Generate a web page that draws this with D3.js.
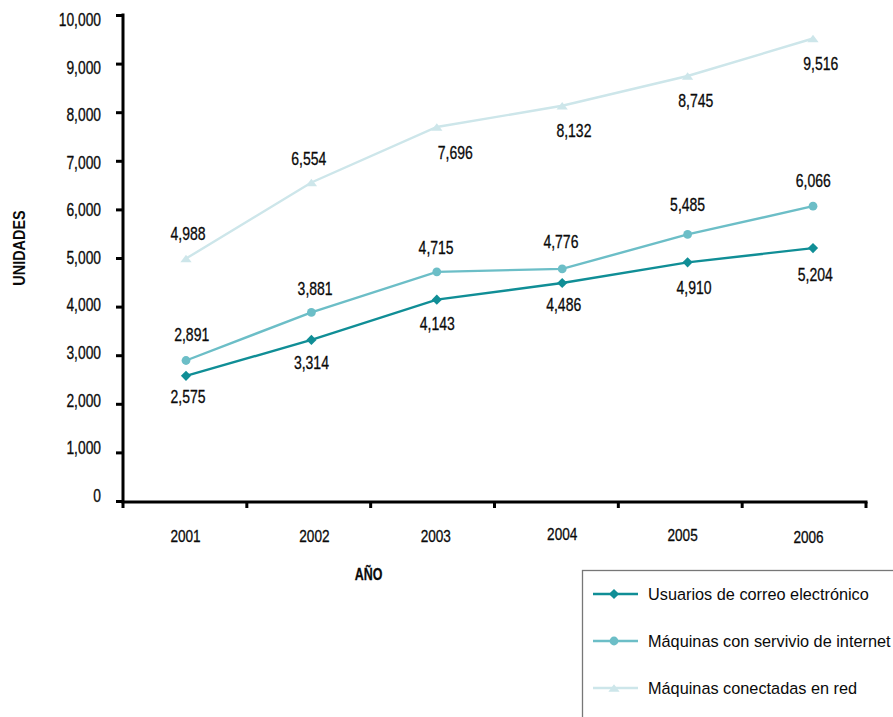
<!DOCTYPE html>
<html><head><meta charset="utf-8">
<script src="https://cdn.jsdelivr.net/npm/d3@7"></script>
<style>
body{margin:0;background:#fff;}
svg{display:block;}
text{font-family:"Liberation Sans",Arial,sans-serif;fill:#0a0a0a;}
text.c{stroke:#0a0a0a;stroke-width:0.3;}
</style></head>
<body><svg id="c" width="893" height="717"></svg>
<script>
const years = ["2001","2002","2003","2004","2005","2006"];
const correo = [2575, 3314, 4143, 4486, 4910, 5204];
const servicio = [2891, 3881, 4715, 4776, 5485, 6066];
const red = [4988, 6554, 7696, 8132, 8745, 9516];
const yTicks = [0,1000,2000,3000,4000,5000,6000,7000,8000,9000,10000];
const seriesNames = ["Usuarios de correo electrónico","Máquinas con servivio de internet","Máquinas conectadas en red"];

// layout (label offsets in px relative to the point)
const labelDx = [[2,0,0.5,1.5,6.4,2.3],[5.7,3.7,-0.7,-1.3,0,0.3],[2,-2.6,18.5,11.7,8.2,7.8]];
const labelDy = [[21,22.7,24.5,22,25.7,27],[-26,-24,-24,-27,-29.6,-25],[-24.5,-24,26,25,25,25.6]];
const yearY = [541.5,541.5,541.5,539.5,541,543];
const yearDx = [-0.5,3,-1,0,-5,-4.5];

const svg = d3.select("#c");
const y = d3.scaleLinear().domain([0,10000]).range([501,15]);
const yLab = d3.scaleLinear().domain([0,10000]).range([495.5,19.7]);
const xb = d3.scaleBand().domain(years).range([123,866]);
const xp = d3.scalePoint().domain(years).range([186,813]);
const fmt = d3.format(",");
const SX = 0.8;

function ctext(g, x, yy, str, size, sx, anchor, weight){
  return g.append("text").attr("class","c").attr("transform",`translate(${x},${yy}) scale(${sx},1)`)
    .attr("text-anchor",anchor||"middle").attr("font-size",size)
    .attr("font-weight",weight||"normal").text(str);
}

// Y axis
const ya = svg.append("g").attr("transform","translate(123,0)")
  .call(d3.axisLeft(y).tickValues(yTicks).tickFormat(fmt).tickSize(7));
ya.select(".domain").attr("stroke","#000").attr("stroke-width",3).attr("d","M0,13.5V502");
ya.selectAll(".tick line").attr("stroke","#000").attr("stroke-width",3);
ya.selectAll(".tick text").remove();
yTicks.forEach(t=>ctext(svg, 101, yLab(t)+6.3, fmt(t), 17.5, 0.79, "end"));

// X axis line with ticks at band edges
const edges = years.map(d=>xb(d)).concat([xb.range()[1]]);
svg.append("line").attr("x1",121.5).attr("x2",867.5).attr("y1",502).attr("y2",502).attr("stroke","#000").attr("stroke-width",3);
svg.selectAll(".xt").data(edges).enter().append("line")
  .attr("x1",d=>d).attr("x2",d=>d).attr("y1",502).attr("y2",508).attr("stroke","#000").attr("stroke-width",3);
years.forEach((d,i)=>ctext(svg, xp(d)+yearDx[i], yearY[i], d, 17, 0.8));

// axis titles
svg.append("text").attr("transform","translate(25,248) rotate(-90) scale(0.86,1)").attr("text-anchor","middle")
  .attr("font-size",16.8).attr("font-weight","bold").text("UNIDADES");
ctext(svg, 368.5, 580, "AÑO", 16.8, 0.74, "middle", "bold");

const colors = ["#108e96","#6cbec7","#cde6ea"];
const data = [correo, servicio, red];
const line = d3.line().x((d,i)=>xp(years[i])).y(d=>y(d));

function marker(g, k, cx, cy, col){
  if(k===0){
    g.append("path").attr("d",d3.symbol(d3.symbolSquare,52)()).attr("transform",`translate(${cx},${cy}) rotate(45)`).attr("fill",col);
  } else if(k===1){
    g.append("circle").attr("cx",cx).attr("cy",cy).attr("r",4.4).attr("fill",col);
  } else {
    g.append("path").attr("d",d3.symbol(d3.symbolTriangle,50)()).attr("transform",`translate(${cx},${cy+1.2}) scale(1.05,0.8)`).attr("fill",col);
  }
}

[2,1,0].forEach(k=>{
  const g = svg.append("g");
  g.append("path").datum(data[k]).attr("d",line).attr("fill","none").attr("stroke",colors[k]).attr("stroke-width",2.4);
  data[k].forEach((v,i)=>marker(g,k,xp(years[i]),y(v),colors[k]));
});
[0,1,2].forEach(k=>{
  data[k].forEach((v,i)=>ctext(svg, xp(years[i])+labelDx[k][i], y(v)+labelDy[k][i]+6.3, fmt(v), 17.5, SX));
});

// legend
const lg = svg.append("g");
lg.append("rect").attr("x",582.5).attr("y",570.5).attr("width",330).attr("height",160).attr("fill","#fff").attr("stroke","#777").attr("stroke-width",1.3);
const ly = [594,641,688];
seriesNames.forEach((n,k)=>{
  lg.append("line").attr("x1",593).attr("x2",638).attr("y1",ly[k]).attr("y2",ly[k]).attr("stroke",colors[k]).attr("stroke-width",2.6);
  marker(lg,k,614,ly[k],colors[k]);
  lg.append("text").attr("x",648).attr("y",ly[k]+5.8).attr("font-size",16.3).text(n);
});
</script></body></html>
